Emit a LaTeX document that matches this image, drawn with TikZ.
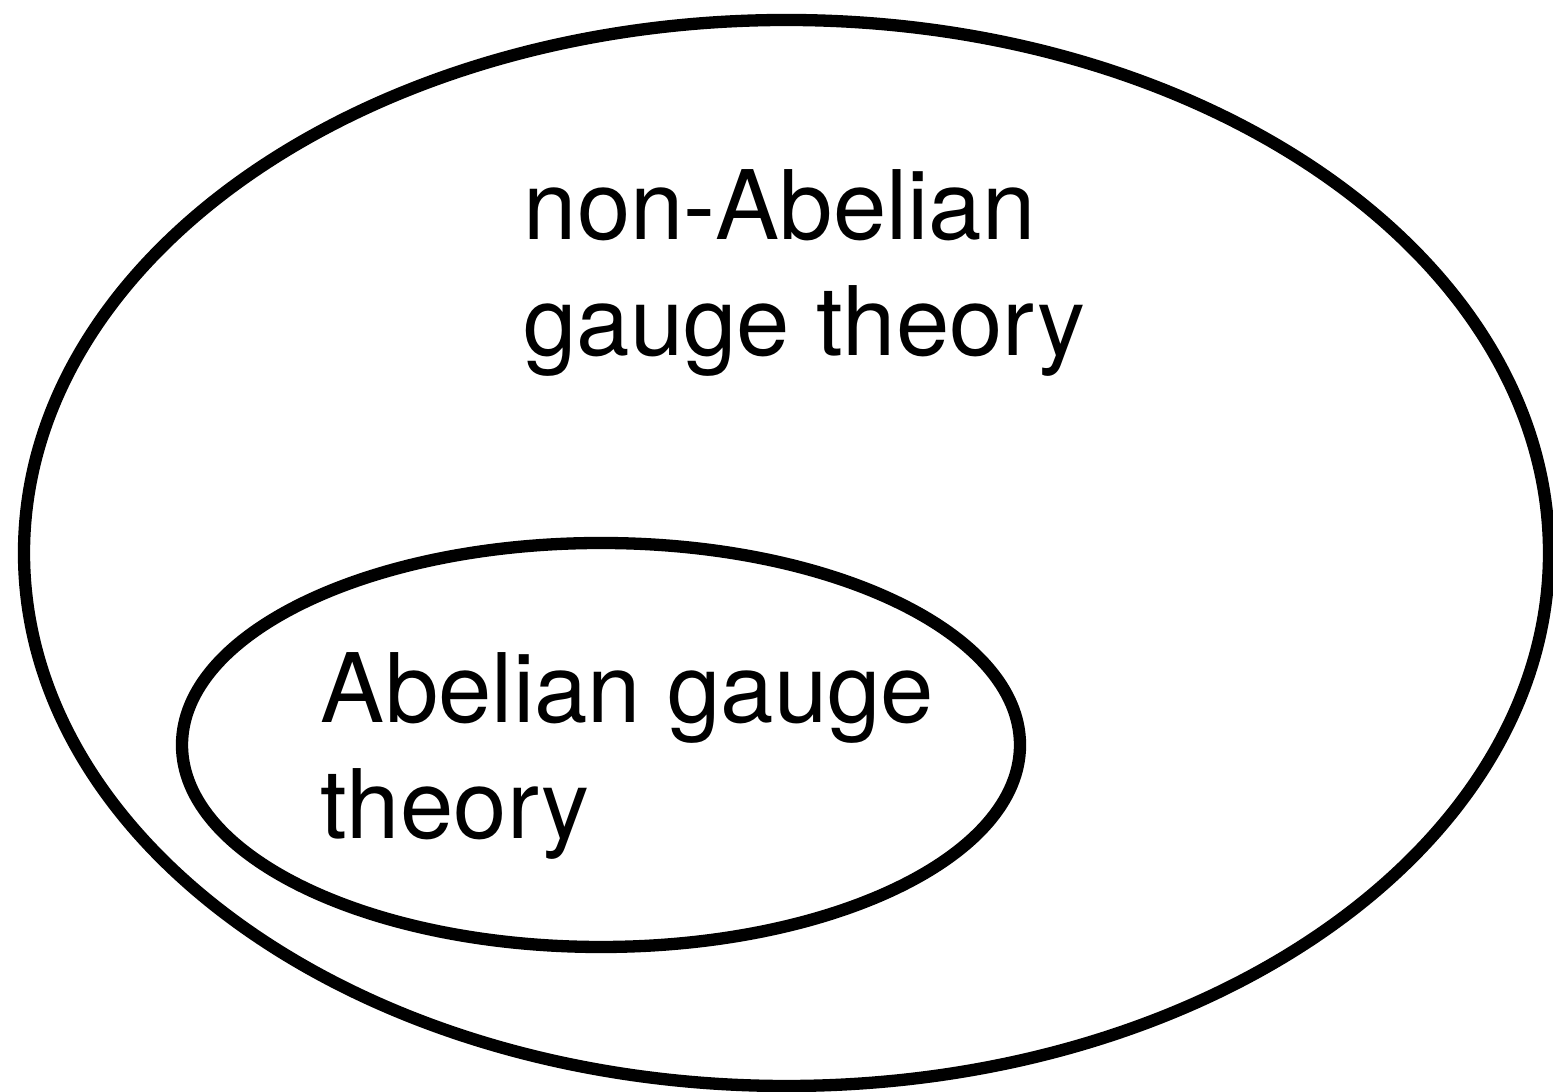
\documentclass[tikz,border=0pt]{standalone}
\usepackage{fontspec}
\setmainfont{TeX Gyre Heros}
\usetikzlibrary{positioning}

\begin{document}
\begin{tikzpicture}[every node/.style={font=\fontsize{27.3}{33.1}\selectfont,inner sep=0pt,align=left}]
\useasboundingbox (0,0) rectangle (15.53,10.92);
% outer set and inner set
\draw[line width=3.5pt] (7.865,5.39) ellipse (7.625 and 5.33);
\draw[line width=3.5pt] (6.01,3.47) ellipse (4.19 and 2.02);
% labels (anchor = baseline of last line)
\node[anchor=base west] (nonab) at (5.23,7.36) {non-Abelian\\gauge theory};
\node[anchor=base west] (ab) at (3.20,2.53) {Abelian gauge\\theory};
\end{tikzpicture}
\end{document}
